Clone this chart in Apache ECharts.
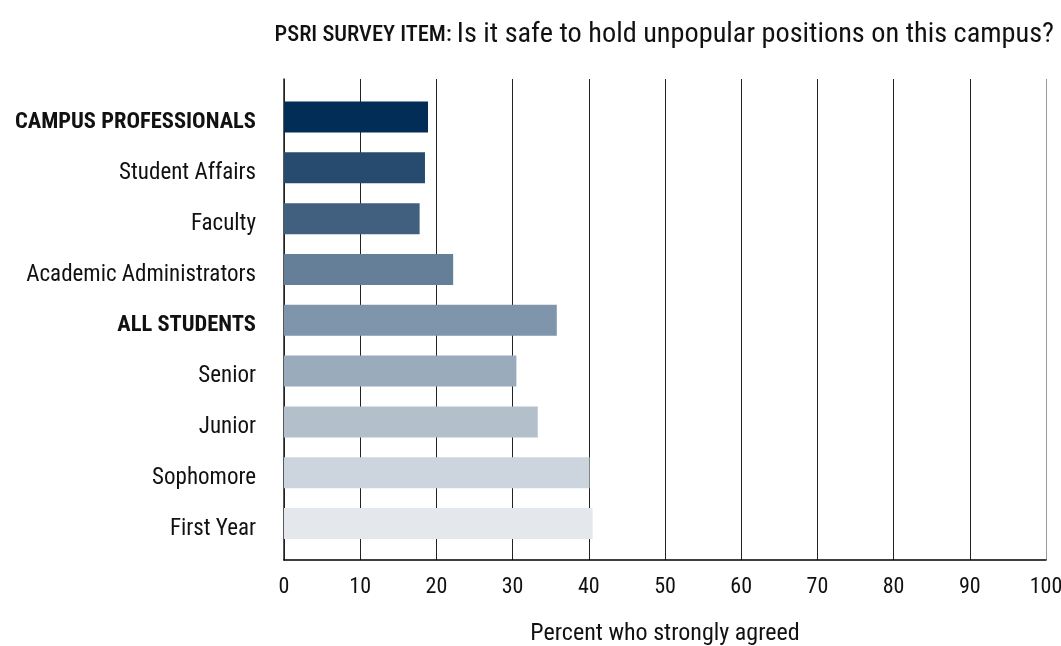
<!DOCTYPE html>
<html><head><meta charset="utf-8">
<script src="https://cdn.jsdelivr.net/npm/echarts@6/dist/echarts.min.js"></script>
<style>html,body{margin:0;padding:0;background:#fff}#c{width:1061px;height:646px}</style>
</head><body><div id="c"></div>
<script>
const categories = ['CAMPUS PROFESSIONALS','Student Affairs','Faculty','Academic Administrators','ALL STUDENTS','Senior','Junior','Sophomore','First Year'];
const values = [18.9, 18.5, 17.8, 22.2, 35.8, 30.5, 33.3, 40.1, 40.5];
const boldCats = ['CAMPUS PROFESSIONALS','ALL STUDENTS'];
const barColors = ['#022d56','#264b6e','#41607f','#657f99','#7f95ab','#9aabbc','#b3bfcb','#ccd4dd','#e4e8ed'];
const xTicks = [0,10,20,30,40,50,60,70,80,90,100];
const FONT = "'Roboto Condensed','Liberation Sans Narrow','Roboto',sans-serif";

const chart = echarts.init(document.getElementById('c'));
chart.setOption({
  animation:false,
  title:{
    text:'{a|PSRI SURVEY ITEM: }{b|Is it safe to hold unpopular positions on this campus?}',
    right:2, top:16,
    textStyle:{fontWeight:'normal',rich:{
      a:{fontFamily:FONT,fontSize:22.5,fontWeight:500,color:'#111'},
      b:{fontFamily:FONT,fontSize:28.3,fontWeight:'normal',color:'#111'}
    }}
  },
  grid:[
    {left:284,right:15,top:79,bottom:86,outerBoundsMode:'none',containLabel:false},
    {left:284,right:15,top:91.6,bottom:97,outerBoundsMode:'none',containLabel:false}
  ],
  xAxis:[
    {gridIndex:0,type:'value',min:0,max:100,interval:10,
     axisLine:{show:true,lineStyle:{color:'#000',width:1.5}},axisTick:{show:false},
     splitLine:{show:true,lineStyle:{color:xTicks.map((t,i)=>i===xTicks.length-1?'#999':'#222'),width:1}},
     axisLabel:{fontFamily:FONT,fontSize:22,color:'#111',margin:16},
     name:'Percent who strongly agreed',nameLocation:'middle',nameGap:62,
     nameTextStyle:{fontFamily:FONT,fontSize:24,color:'#111'}},
    {gridIndex:1,type:'value',min:0,max:100,show:false}
  ],
  yAxis:[
    {gridIndex:0,type:'value',min:0,max:1,
     axisLine:{show:true,lineStyle:{color:'#222',width:1.5}},axisTick:{show:false},
     axisLabel:{show:false},splitLine:{show:false}},
    {gridIndex:1,type:'category',data:categories,inverse:true,
     axisLine:{show:false},axisTick:{show:false},
     axisLabel:{margin:28,fontFamily:FONT,fontSize:23,color:'#111',padding:[11,0,0,0],
       formatter:function(v){return boldCats.indexOf(v)>=0?'{b|'+v+'}':'{n|'+v+'}';},
       rich:{b:{fontFamily:FONT,fontSize:22.5,fontWeight:'bold',color:'#111'},
             n:{fontFamily:FONT,fontSize:23,color:'#111'}}}}
  ],
  series:[{
    type:'bar',xAxisIndex:1,yAxisIndex:1,barWidth:31,
    data:values.map((v,i)=>({value:v,itemStyle:{color:barColors[i]}}))
  }]
});
</script></body></html>
